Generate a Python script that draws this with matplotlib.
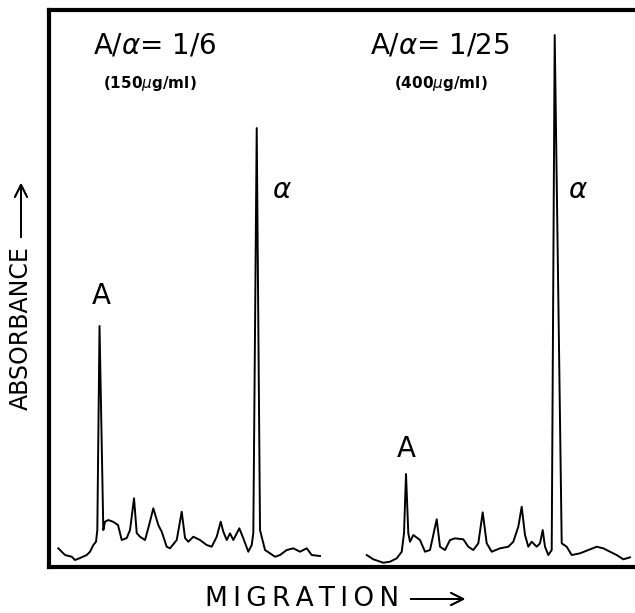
import matplotlib.pyplot as plt

# densitometer scans, migration (x) vs absorbance (y), arbitrary units
mig_1 = [9.3, 16, 22.7, 26, 31, 37.7, 41, 44.3, 47, 48.3, 50.5, 54.3, 56, 59.3, 64, 69,
         72.7, 77.7, 81, 85, 87.7, 91, 96, 99.3, 104.3, 109.3, 112.7, 117.7, 121, 127.7,
         132.7, 136, 139.3, 144.3, 151, 157.7, 162.7, 167.7, 171.7, 174.3, 177.7, 181,
         184.3, 190.3, 194.3, 199.3, 202.7, 204.3, 207.7, 211, 216, 221, 226, 231, 237.7,
         244.3, 251, 257.7, 262.7, 271]
abs_1 = [18.7, 12, 10.3, 7, 9, 12, 15.3, 22, 25.3, 37, 241, 37, 45.3, 47, 45.3, 42,
         27, 29, 37, 68.7, 34, 30.3, 27, 39, 58.7, 42, 35.3, 20.3, 18.7, 27,
         55.3, 29, 25.3, 30.3, 27, 22, 20.3, 30.3, 45.3, 35.3, 27, 33.7,
         27, 38.7, 28.7, 15.3, 22, 34, 439, 37, 17, 13.7, 10.3, 12, 17,
         18.7, 15.3, 18.7, 12, 11]

mig_2 = [317.7, 324.3, 334.3, 341, 347.7, 352.7, 355, 357, 359.3, 361, 364.3, 371, 376,
         381, 387.7, 391, 396, 401, 406, 414.3, 419.3, 424.3, 429.3, 433.7, 437.7, 442.7,
         451, 459.3, 464.3, 469.3, 472.7, 476, 479.3, 482.7, 487.7, 491, 493.7, 496, 499.3,
         502.7, 505.7, 512.7, 517.7, 522.7, 531, 539.3, 547.7, 554.3, 561, 567.7, 574.3, 581]
abs_2 = [12, 7.7, 4.3, 5.3, 8.7, 15.3, 33.7, 93, 33.7, 25.3, 32, 27, 15.3,
         17, 47.7, 20.3, 17, 27, 28.7, 27.7, 20.3, 17, 23.7, 54.7, 23.7, 15.3,
         18.7, 20.3, 25.3, 40.3, 60.3, 32, 20.3, 25.3, 20.3, 23.7, 37, 20.3, 12,
         17, 532, 23.7, 20.3, 12, 13.7, 17, 20.3, 18.7, 15.3, 12, 7.7, 9.7]

fig = plt.figure(figsize=(6.35, 6.13), dpi=100)
ax = fig.add_axes([0.0772, 0.075, 0.9228, 0.9086])
ax.plot(mig_1, abs_1, color="black", lw=1.4)
ax.plot(mig_2, abs_2, color="black", lw=1.4)
ax.set_xlim(0, 586)
ax.set_ylim(0, 557)
ax.set_xticks([])
ax.set_yticks([])
for s in ["left", "bottom", "top"]:
    ax.spines[s].set_linewidth(3)
ax.spines["right"].set_visible(False)

big = dict(ha="center", va="center", fontsize=20)
ax.text(106, 522, r"A/$\alpha$= 1/6", **big)
ax.text(391, 522, r"A/$\alpha$= 1/25", **big)
small = dict(ha="center", va="center", fontsize=11, fontweight="bold")
ax.text(101, 484, r"(150$\mu$g/ml)", **small)
ax.text(392, 484, r"(400$\mu$g/ml)", **small)
ax.text(233, 377, r"$\alpha$", ha="center", va="center", fontsize=20)
ax.text(529, 377, r"$\alpha$", ha="center", va="center", fontsize=20)
ax.text(52, 271, "A", ha="center", va="center", fontsize=20)
ax.text(357.5, 118, "A", ha="center", va="center", fontsize=20)

# axis captions with long arrows (thin spaces to mimic the wide lettering)
fig.text(205 / 635, 1 - 599 / 613, "\u2009".join("MIGRATION"), ha="left", va="center", fontsize=19)
fig.text(21 / 635, 1 - 328 / 613, "ABSORBANCE", ha="center", va="center",
         rotation=90, fontsize=17)
fig.add_artist(plt.annotate("", xy=(468 / 635, 1 - 599 / 613), xytext=(408 / 635, 1 - 599 / 613),
                            xycoords="figure fraction",
                            arrowprops=dict(arrowstyle="->", lw=1.3, mutation_scale=22)))
fig.add_artist(plt.annotate("", xy=(21 / 635, 1 - 180 / 613), xytext=(21 / 635, 1 - 240 / 613),
                            xycoords="figure fraction",
                            arrowprops=dict(arrowstyle="->", lw=1.3, mutation_scale=22)))

fig.savefig("out.png", dpi=100)
